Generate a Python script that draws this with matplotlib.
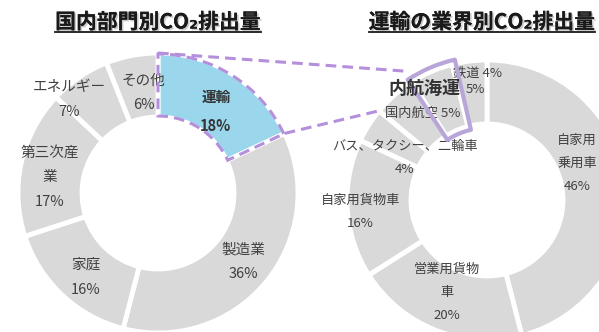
import matplotlib.pyplot as plt
import matplotlib.patheffects as pe
from matplotlib.patches import Wedge
import numpy as np

plt.rcParams['font.family'] = ['Noto Sans CJK JP', 'DejaVu Sans']

# 国内部門別 (clockwise from 12 o'clock)
sector_names = ['運輸', '製造業', '家庭', '第三次産\n業', 'エネルギー', 'その他']
sector_pct = [18, 36, 16, 17, 7, 6]

# 運輸の業界別 (clockwise from 12 o'clock)
transport_names = ['自家用\n乗用車', '営業用貨物\n車', '自家用貨物車',
                   'バス、タクシー、二輪車', '国内航空', '内航海運', '鉄道']
transport_pct = [46, 20, 16, 4, 5, 5, 4]

GRAY = '#d9d9d9'
BLUE = '#9ad6ec'
PURPLE = '#b48fdc'
LAVENDER = '#b9a6d9'
TXT = '#404040'

fig = plt.figure(figsize=(5.99, 3.32), dpi=100)
ax = fig.add_axes([0, 0, 1, 1])

R, W = 140, 64
c1 = (158, 139)
c2 = (487, 132)
wp = dict(width=W, edgecolor='white', linewidth=3.5)

w1, _ = ax.pie(sector_pct, radius=R, center=c1, startangle=90, counterclock=False,
               colors=[BLUE] + [GRAY] * 5, wedgeprops=wp)
w2, _ = ax.pie(transport_pct, radius=R, center=c2, startangle=90, counterclock=False,
               colors=[GRAY] * 7, wedgeprops=wp)
ax.set_xlim(0, 599)
ax.set_ylim(0, 332)
ax.set_aspect('equal')
ax.axis('off')


def polar(c, r, ang):
    a = np.deg2rad(ang)
    return c[0] + r * np.cos(a), c[1] + r * np.sin(a)


# label nudges (px) from the middle of each ring segment
left_off = [(0, -10), (2, 0), (2, -6), (-3, -8), (-28, 4), (6, -6)]
right_off = [(-17, 23), (0, 8), (-19, -5), (9, -16), (7, 6), (19, 12), (4, 20)]

for w, name, v, (dx, dy) in zip(w1, sector_names, sector_pct, left_off):
    x, y = polar(c1, R - W / 2, (w.theta1 + w.theta2) / 2)
    bold = name == '運輸'
    ax.text(x + dx, y + dy, f'{name}\n{v}%', ha='center', va='center',
            fontsize=10.5, color='#333333' if bold else TXT,
            fontweight='bold' if bold else 'normal', linespacing=2.0)

for w, name, v, (dx, dy) in zip(w2, transport_names, transport_pct, right_off):
    x, y = polar(c2, R - W / 2, (w.theta1 + w.theta2) / 2)
    if name == '内航海運':
        ax.text(x + dx - 3, y + dy, name, ha='right', va='center',
                fontsize=13, color='#333333', fontweight='bold', zorder=4)
        ax.text(x + dx + 3, y + dy - 1, f'{v}%', ha='left', va='center',
                fontsize=9.5, color=TXT, zorder=4)
        hl = w
    elif name in ('国内航空', '鉄道'):
        ax.text(x + dx, y + dy, f'{name} {v}%', ha='center', va='center',
                fontsize=9.5, color=TXT)
    else:
        ax.text(x + dx, y + dy, f'{name}\n{v}%', ha='center', va='center',
                fontsize=9.5, color=TXT, linespacing=2.0)

# dashed outline of 運輸 and solid outline of 内航海運
tr = w1[0]
ax.add_patch(Wedge(c1, R - 1, tr.theta1, tr.theta2, width=W - 2, fill=False,
                   edgecolor=PURPLE, lw=2.2, linestyle=(0, (3.5, 2)), zorder=3))
ax.add_patch(Wedge(c2, R + 4, hl.theta1 - 1.5, hl.theta2 + 1, width=W + 8, fill=False,
                   edgecolor=LAVENDER, lw=3, joinstyle='round', zorder=3))

# connectors
p_a = polar(c1, R, tr.theta2)
p_b = polar(c1, R, tr.theta1)
q_a = polar(c2, R * 1.09, hl.theta2)
q_b = polar(c2, R, w2[4].theta2)
for p, q in [(p_a, q_a), (p_b, q_b)]:
    ax.plot([p[0], q[0]], [p[1], q[1]], color=PURPLE, lw=2.2,
            linestyle=(0, (3.5, 2)), zorder=2)

# titles
shadow = [pe.withSimplePatchShadow(offset=(1.2, -1.2), shadow_rgbFace='#999999', alpha=0.5),
          pe.Normal()]
titles = []
for cx, s in [(c1[0], '国内部門別CO₂排出量'), (482, '運輸の業界別CO₂排出量')]:
    t = ax.text(cx, 310, s, ha='center', va='center', fontsize=15,
                fontweight='bold', color='#1a1a1a', path_effects=shadow)
    titles.append(t)

fig.canvas.draw()
inv = ax.transData.inverted()
for t in titles:
    bb = t.get_window_extent()
    (x0, y0), (x1, y1) = inv.transform([(bb.x0, bb.y0), (bb.x1, bb.y1)])
    ax.plot([x0, x1], [y0 + 1, y0 + 1], color='#1a1a1a', lw=1.3, zorder=4)

fig.savefig('out.png', dpi=100)
